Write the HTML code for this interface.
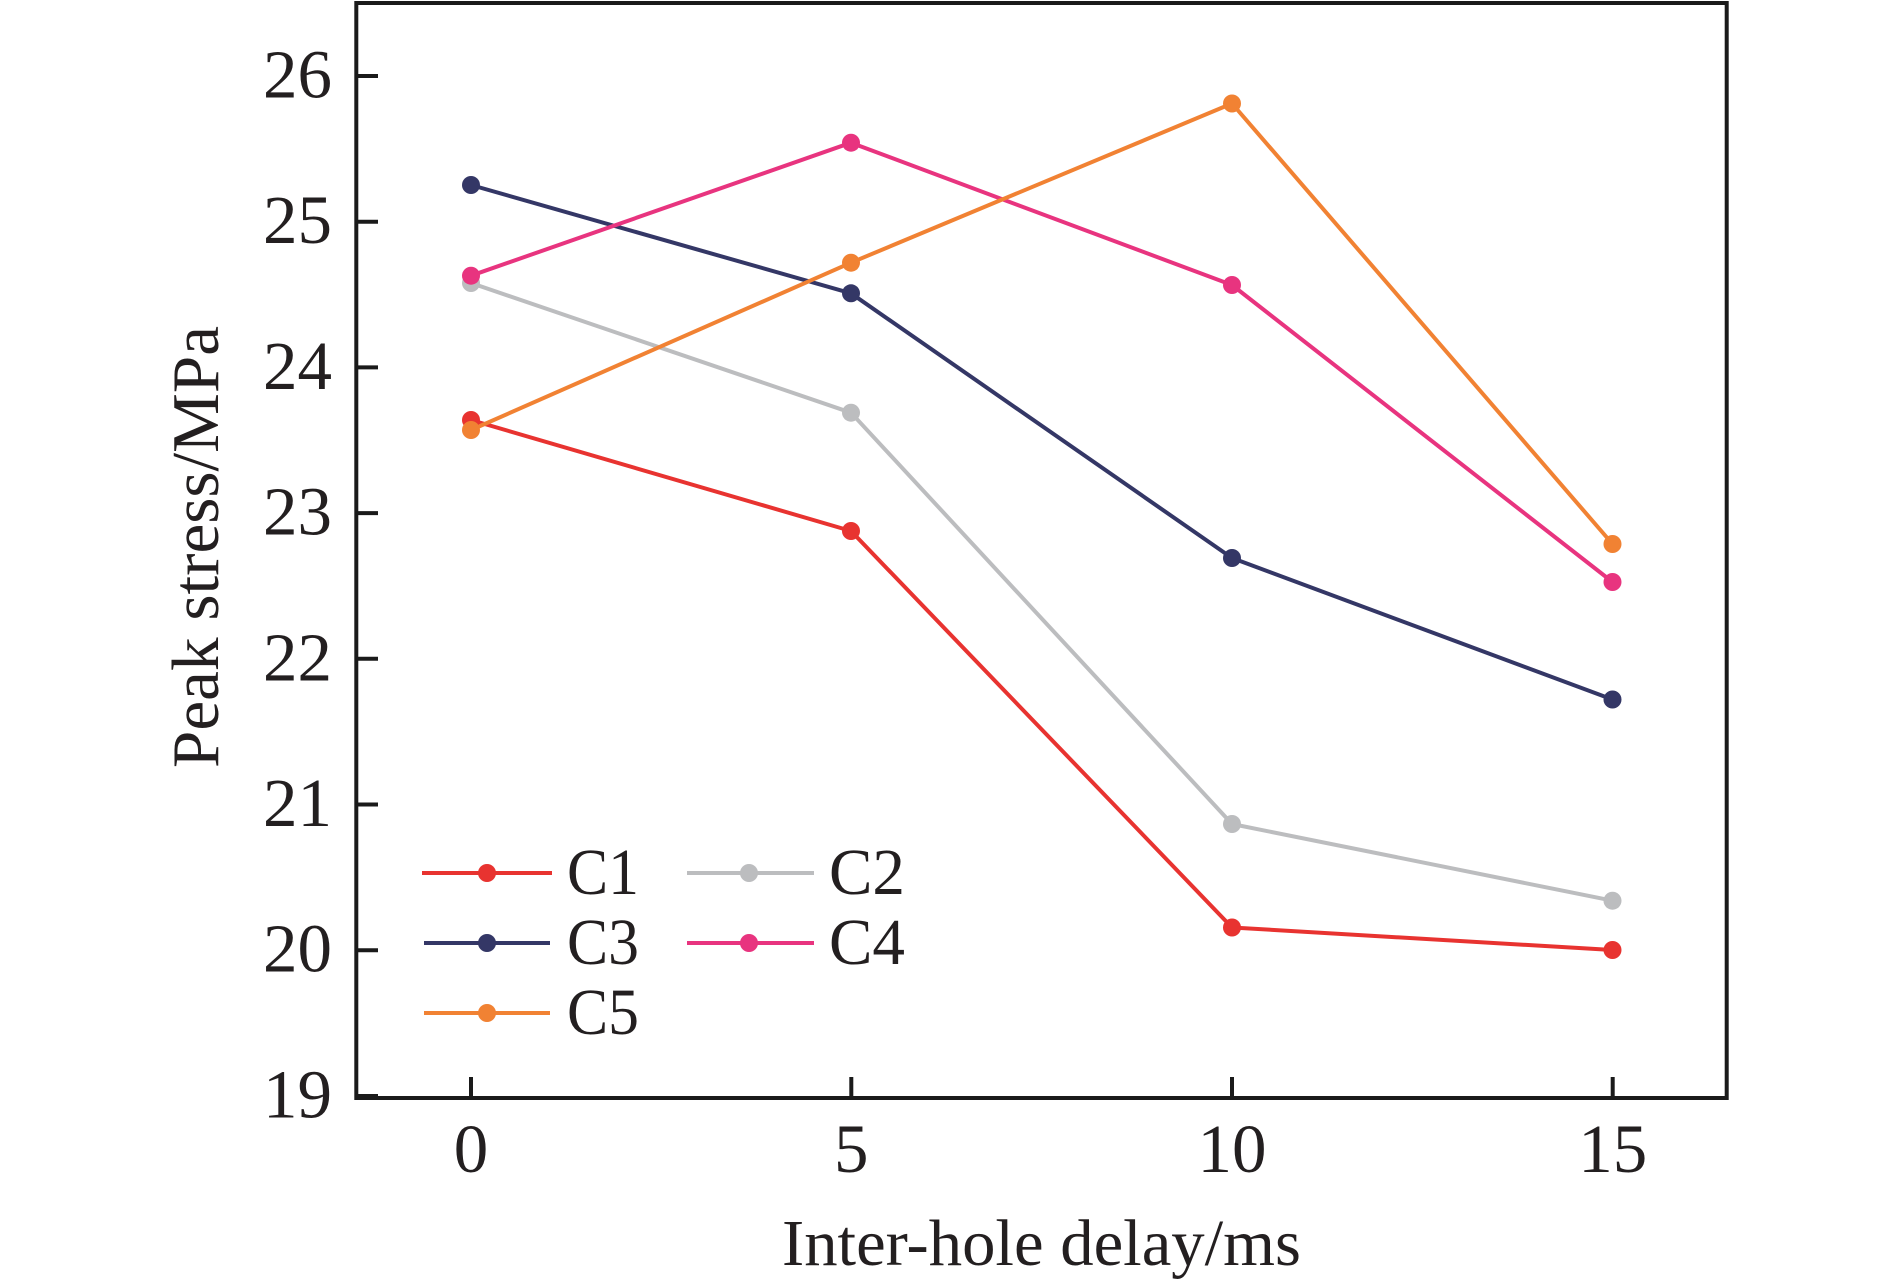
<!DOCTYPE html>
<html>
<head>
<meta charset="utf-8">
<style>
html,body{margin:0;padding:0;background:#fff;}
svg{display:block;}
text{font-family:"Liberation Serif","Times New Roman",serif;fill:#231f20;}
</style>
</head>
<body>
<svg width="1890" height="1286" viewBox="0 0 1890 1286" xmlns="http://www.w3.org/2000/svg">
<rect x="0" y="0" width="1890" height="1286" fill="#fff"/>

<!-- series -->
<g fill="none" stroke-width="4" stroke-linejoin="round">
  <polyline stroke="#e83330" points="471,420 851,531 1232,927.5 1612.5,950"/>
  <polyline stroke="#bcbdbf" points="471,283 851,412.7 1232,824 1612.5,900.7"/>
  <polyline stroke="#343766" points="471,185 851,293.3 1232,558 1612.5,699.5"/>
  <polyline stroke="#e8347f" points="471,275.7 851,142.7 1232,285 1612.5,582"/>
  <polyline stroke="#f18233" points="471,430 851,262.7 1232,103.5 1612.5,544"/>
</g>
<g fill="#e83330">
  <circle cx="471" cy="420" r="9"/><circle cx="851" cy="531" r="9"/><circle cx="1232" cy="927.5" r="9"/><circle cx="1612.5" cy="950" r="9"/>
</g>
<g fill="#bcbdbf">
  <circle cx="471" cy="283" r="9"/><circle cx="851" cy="412.7" r="9"/><circle cx="1232" cy="824" r="9"/><circle cx="1612.5" cy="900.7" r="9"/>
</g>
<g fill="#343766">
  <circle cx="471" cy="185" r="9"/><circle cx="851" cy="293.3" r="9"/><circle cx="1232" cy="558" r="9"/><circle cx="1612.5" cy="699.5" r="9"/>
</g>
<g fill="#e8347f">
  <circle cx="471" cy="275.7" r="9"/><circle cx="851" cy="142.7" r="9"/><circle cx="1232" cy="285" r="9"/><circle cx="1612.5" cy="582" r="9"/>
</g>
<g fill="#f18233">
  <circle cx="471" cy="430" r="9"/><circle cx="851" cy="262.7" r="9"/><circle cx="1232" cy="103.5" r="9"/><circle cx="1612.5" cy="544" r="9"/>
</g>

<!-- axes box -->
<rect x="356.3" y="3" width="1370.4" height="1095" fill="none" stroke="#1a1a1a" stroke-width="4"/>

<!-- ticks -->
<g stroke="#1a1a1a" stroke-width="4">
  <line x1="356" y1="76" x2="378" y2="76"/>
  <line x1="356" y1="221.7" x2="378" y2="221.7"/>
  <line x1="356" y1="367.4" x2="378" y2="367.4"/>
  <line x1="356" y1="513.1" x2="378" y2="513.1"/>
  <line x1="356" y1="658.8" x2="378" y2="658.8"/>
  <line x1="356" y1="804.5" x2="378" y2="804.5"/>
  <line x1="356" y1="950.2" x2="378" y2="950.2"/>
  <line x1="356" y1="1096" x2="378" y2="1096"/>
  <line x1="471" y1="1077" x2="471" y2="1098"/>
  <line x1="851.3" y1="1077" x2="851.3" y2="1098"/>
  <line x1="1232" y1="1077" x2="1232" y2="1098"/>
  <line x1="1612.7" y1="1077" x2="1612.7" y2="1098"/>
</g>

<!-- y tick labels -->
<g font-size="69" text-anchor="end">
  <text x="332" y="97.5">26</text>
  <text x="332" y="243.2">25</text>
  <text x="332" y="388.9">24</text>
  <text x="332" y="534.6">23</text>
  <text x="332" y="680.3">22</text>
  <text x="332" y="826">21</text>
  <text x="332" y="971.7">20</text>
  <text x="332" y="1117.5">19</text>
</g>

<!-- x tick labels -->
<g font-size="69" text-anchor="middle">
  <text x="471" y="1172">0</text>
  <text x="851.3" y="1172">5</text>
  <text x="1232" y="1172">10</text>
  <text x="1612.7" y="1172">15</text>
</g>

<!-- axis labels -->
<text x="782" y="1265" font-size="66" textLength="519" lengthAdjust="spacingAndGlyphs">Inter-hole delay/ms</text>
<text transform="translate(218,547) rotate(-90)" x="0" y="0" font-size="67" text-anchor="middle" textLength="442" lengthAdjust="spacingAndGlyphs">Peak stress/MPa</text>

<!-- legend -->
<g stroke-width="4">
  <line x1="422" y1="873" x2="552" y2="873" stroke="#e83330"/>
  <line x1="687" y1="873" x2="814" y2="873" stroke="#bcbdbf"/>
  <line x1="424" y1="943" x2="550" y2="943" stroke="#343766"/>
  <line x1="687" y1="943" x2="814" y2="943" stroke="#e8347f"/>
  <line x1="424" y1="1013" x2="550" y2="1013" stroke="#f18233"/>
</g>
<circle cx="487" cy="873" r="9" fill="#e83330"/>
<circle cx="749" cy="873" r="9" fill="#bcbdbf"/>
<circle cx="487" cy="943" r="9" fill="#343766"/>
<circle cx="749" cy="943" r="9" fill="#e8347f"/>
<circle cx="487" cy="1013" r="9" fill="#f18233"/>
<g font-size="66">
  <text x="567" y="894" textLength="72" lengthAdjust="spacingAndGlyphs">C1</text>
  <text x="829" y="894" textLength="76" lengthAdjust="spacingAndGlyphs">C2</text>
  <text x="567" y="964" textLength="72" lengthAdjust="spacingAndGlyphs">C3</text>
  <text x="829" y="964" textLength="76" lengthAdjust="spacingAndGlyphs">C4</text>
  <text x="567" y="1034" textLength="72" lengthAdjust="spacingAndGlyphs">C5</text>
</g>
</svg>
</body>
</html>
